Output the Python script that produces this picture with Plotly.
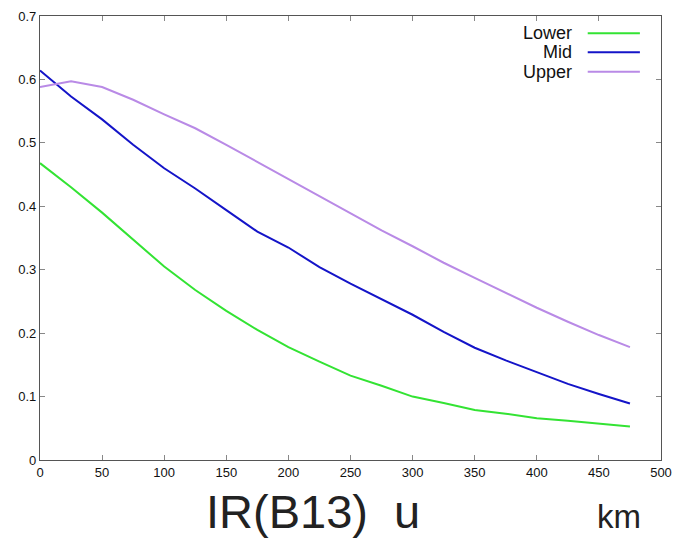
import plotly.graph_objects as go

distance_km = [0, 25, 50, 75, 100, 125, 150, 175, 200, 225, 250, 275, 300, 325, 350, 375, 400, 425, 450, 475]
lower = [0.468, 0.43, 0.39, 0.348, 0.305, 0.268, 0.235, 0.205, 0.178, 0.155, 0.133, 0.117, 0.100, 0.090, 0.079, 0.073, 0.066, 0.062, 0.058, 0.053]
mid = [0.614, 0.573, 0.537, 0.497, 0.46, 0.428, 0.394, 0.36, 0.335, 0.304, 0.278, 0.253, 0.229, 0.202, 0.177, 0.157, 0.138, 0.12, 0.104, 0.089]
upper = [0.588, 0.597, 0.588, 0.568, 0.545, 0.523, 0.497, 0.47, 0.443, 0.415, 0.388, 0.362, 0.337, 0.311, 0.287, 0.263, 0.24, 0.218, 0.197, 0.178]

series_names = ["Lower", "Mid", "Upper"]
series_values = [lower, mid, upper]
series_colors = ["#33e333", "#1414c8", "#b98ae6"]

x_ticks = list(range(0, 501, 50))
y_ticks = [0, 0.1, 0.2, 0.3, 0.4, 0.5, 0.6, 0.7]

fig = go.Figure()
for name, vals, col in zip(series_names, series_values, series_colors):
    fig.add_trace(go.Scatter(x=distance_km, y=vals, mode="lines", name=name,
                             line=dict(color=col, width=2), showlegend=False))

# legend drawn gnuplot-style: right-aligned text, sample line to its right
legend_y = [0.673, 0.643, 0.612]
for name, col, ly in zip(series_names, series_colors, legend_y):
    fig.add_annotation(x=430, y=ly, xref="x", yref="y", text=name, showarrow=False,
                       xanchor="right", yanchor="middle",
                       font=dict(family="Liberation Sans, Arial", size=18, color="#111"))
    fig.add_shape(type="line", xref="x", yref="y", x0=441, x1=483, y0=ly, y1=ly,
                  line=dict(color=col, width=2))

fig.add_annotation(x=0.439, y=-0.117, xref="paper", yref="paper",
                   text="IR(B13)\u00a0\u00a0u", showarrow=False,
                   xanchor="center", yanchor="middle",
                   font=dict(family="Liberation Sans, Arial", size=47, color="#222"))
fig.add_annotation(x=0.933, y=-0.128, xref="paper", yref="paper",
                   text="km", showarrow=False, xanchor="center", yanchor="middle",
                   font=dict(family="Liberation Sans, Arial", size=33, color="#222"))

axis_common = dict(showline=True, linecolor="#555", linewidth=1.2, mirror="ticks",
                   ticks="inside", ticklen=5, tickcolor="#888", showgrid=False,
                   zeroline=False, automargin=False,
                   tickfont=dict(family="Liberation Sans, Arial", size=13, color="#111"))

fig.update_xaxes(range=[0, 500], tickvals=x_ticks, **axis_common)
fig.update_yaxes(range=[0, 0.7], tickvals=y_ticks, **axis_common)

fig.update_layout(width=675, height=538, margin=dict(l=40, r=14, t=16, b=78),
                  plot_bgcolor="white", paper_bgcolor="white")

fig.write_html("out.html")
